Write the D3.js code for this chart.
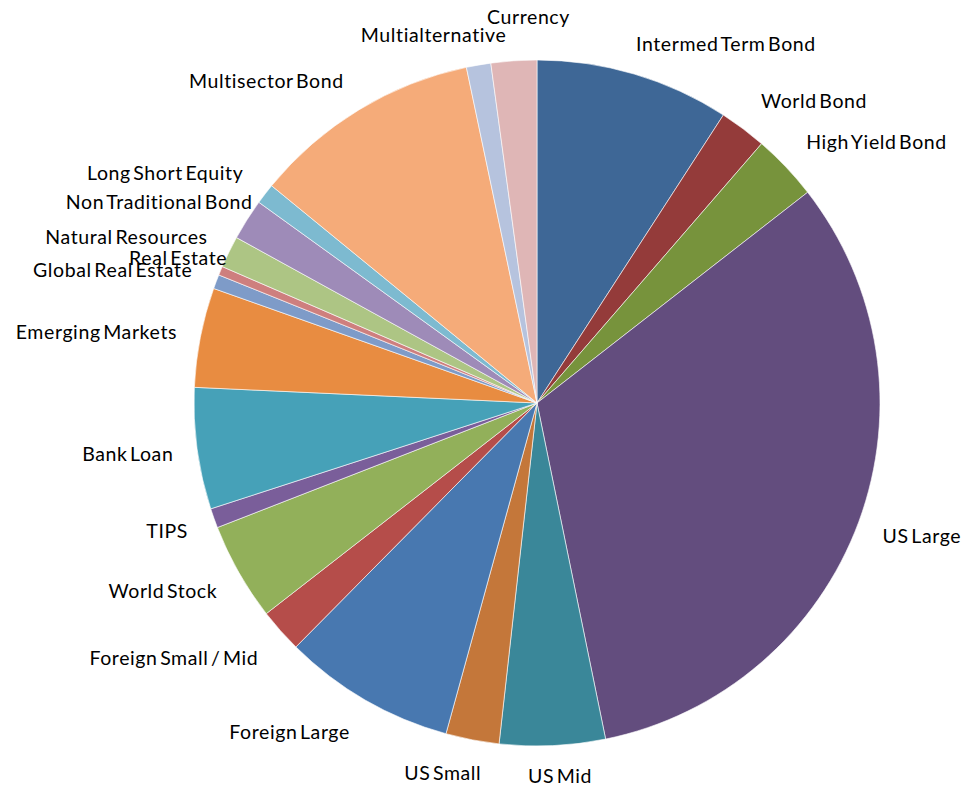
<!DOCTYPE html>
<html><head><meta charset="utf-8">
<script src="https://cdn.jsdelivr.net/npm/d3@7"></script>
<style>body{margin:0;background:#fff}svg{display:block}</style>
</head><body>
<svg id="chart" width="963" height="787"></svg>
<script>
// Data: share of allocation, read as slice angles (percent of pie)
const categories = ["Intermed Term Bond","World Bond","High Yield Bond","US Large","US Mid","US Small","Foreign Large","Foreign Small / Mid","World Stock","TIPS","Bank Loan","Emerging Markets","Global Real Estate","Real Estate","Natural Resources","Non Traditional Bond","Long Short Equity","Multisector Bond","Multialternative","Currency"];
const values = [9.14, 2.22, 3.11, 32.32, 4.97, 2.51, 8.13, 2.07, 4.61, 0.92, 5.72, 4.69, 0.67, 0.42, 1.50, 1.94, 0.97, 10.78, 1.15, 2.15];
const colors = ["#3E6796","#943B3A","#77933C","#634D7E","#3A8799","#C4773A","#4878B0","#B54D4A","#92B05A","#7A5E9A","#46A1B8","#E88C41","#7E9BC8","#CE7F7E","#ADC584","#9E8BB8","#7DBAD0","#F5AB79","#B6C3DE","#DFB6B6"];
// label nudges (px) to mimic the original label placement
const labelNudge = [[-8,3.5],[-3,0],[-5,-1],[-9,1],[6,-5],[-23,-2],[2,1],[4,3],[9,1],[7,1],[11,0],[11,1.5],[9,0.5],[39,0],[10,0],[35,1],[6,0],[3,1],[-39,4],[17,-9]];

const svg = d3.select("#chart");
const cx = 537, cy = 403, r = 343;
const g = svg.append("g").attr("transform", `translate(${cx},${cy})`);
const data = categories.map((c,i)=>({name:c, value:values[i], color:colors[i], nudge:labelNudge[i]}));
const pie = d3.pie().value(d=>d.value).sort(null);
const arc = d3.arc().innerRadius(0).outerRadius(r);
const arcs = pie(data);
g.selectAll("path").data(arcs).join("path")
  .attr("d", arc).attr("fill", d=>d.data.color)
  .attr("stroke", "#fff").attr("stroke-width", 0.6);

const R = 378;
g.selectAll("text").data(arcs).join("text")
  .each(function(d){
    const a = (d.startAngle + d.endAngle)/2;
    const s = Math.sin(a), c = Math.cos(a);
    const x = R*s + d.data.nudge[0], y = -R*c + d.data.nudge[1];
    d3.select(this).attr("x", x).attr("y", y)
      .attr("text-anchor", s > 0.25 ? "start" : (s < -0.25 ? "end" : "middle"));
  })
  .attr("dominant-baseline", "central")
  .attr("font-family", "Lato, 'Open Sans', sans-serif")
  .attr("font-size", 19.5).attr("fill", "#000")
  .attr("letter-spacing", 0.6).attr("word-spacing", -3)
  .text(d=>d.data.name);
</script>
</body></html>
